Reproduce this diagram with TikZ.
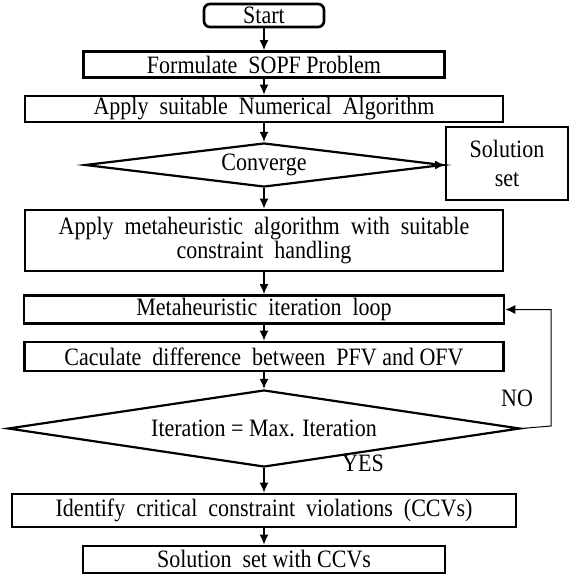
\documentclass[tikz,border=0pt]{standalone}
\usepackage{fontspec}
\setmainfont[FakeStretch=0.88]{Liberation Serif}
\usetikzlibrary{shapes.geometric,arrows.meta}

\tikzset{
  box/.style={draw, line width=1.35pt, inner sep=0pt, align=center,
    font=\fontsize{12.5}{11.8}\selectfont},
  decision/.style={diamond, draw, line width=1.1pt, inner sep=0pt, aspect=8,
    font=\fontsize{12.5}{12}\selectfont},
  flow/.style={->, line width=0.7pt},
  lbl/.style={font=\fontsize{12.5}{12}\selectfont, inner sep=0pt},
}

\begin{document}
\begin{tikzpicture}[x=0.5pt, y=-0.5pt, >={Latex[length=5pt,width=4.5pt]}]
\useasboundingbox (0,0) rectangle (568,576);
%==================== Top part ==================
\node[box, rounded corners=3pt, minimum width=120*0.5pt, minimum height=23*0.5pt] (start) at (264,15.5) {Start};
\node[box, minimum width=361*0.5pt, minimum height=26*0.5pt] (form) at (264,64.5) {Formulate\ \ SOPF Problem};
\node[box, minimum width=478*0.5pt, minimum height=26*0.5pt] (numalg) at (264,109) {Apply\ \ suitable\ \ Numerical\ \ Algorithm};
\node[decision, minimum width=358*0.5pt, minimum height=44*0.5pt] (conv) at (264,165) {Converge};
\node[box, line width=1pt, minimum width=122*0.5pt, minimum height=73*0.5pt] (solset) at (507,163.5) {Solution\\[2.5pt]set};
%==================== Metaheuristic part ==================
\node[box, minimum width=478*0.5pt, minimum height=61*0.5pt] (meta) at (264,240.5) {Apply\ \ metaheuristic\ \ algorithm\ \ with\ \ suitable\\constraint\ \ handling};
\node[box, minimum width=480*0.5pt, minimum height=28*0.5pt] (loop) at (264,309.5) {Metaheuristic\ \ iteration\ \ loop};
\node[box, minimum width=479*0.5pt, minimum height=29*0.5pt] (calc) at (264,356.5) {Caculate\ \ difference\ \ between\ \ PFV and OFV};
\node[decision, minimum width=512*0.5pt, minimum height=77*0.5pt] (iter) at (264,428.5) {Iteration = Max. Iteration};
%==================== Bottom part ==================
\node[box, minimum width=504*0.5pt, minimum height=33*0.5pt] (ident) at (264,510.5) {Identify\ \ critical\ \ constraint\ \ violations\ \ (CCVs)};
\node[box, minimum width=362*0.5pt, minimum height=27*0.5pt] (final) at (264,559.5) {Solution\ \ set with CCVs};
%=================== Arrows =================================
\draw[flow] (start) -- (form);
\draw[flow] (form) -- (numalg);
\draw[flow] (numalg) -- (conv);
\draw[flow] (conv.east) -- (solset.west |- conv.east);
\draw[flow] (conv) -- (meta);
\draw[flow] (meta) -- (loop);
\draw[flow] (loop) -- (calc);
\draw[flow] (calc) -- (iter);
\draw[flow] (iter) -- (ident);
\draw[flow] (ident) -- (final);
%=================== Feedback ===============================
\coordinate (back) at (551,426);
\draw[->, line width=0.5pt] (iter.east) -- (back) |- (loop.east);
%======================= Labels =============================
\node[lbl] (no) at (517,398) {NO};
\node[lbl] (yes) at (363,463) {YES};
\end{tikzpicture}
\end{document}
